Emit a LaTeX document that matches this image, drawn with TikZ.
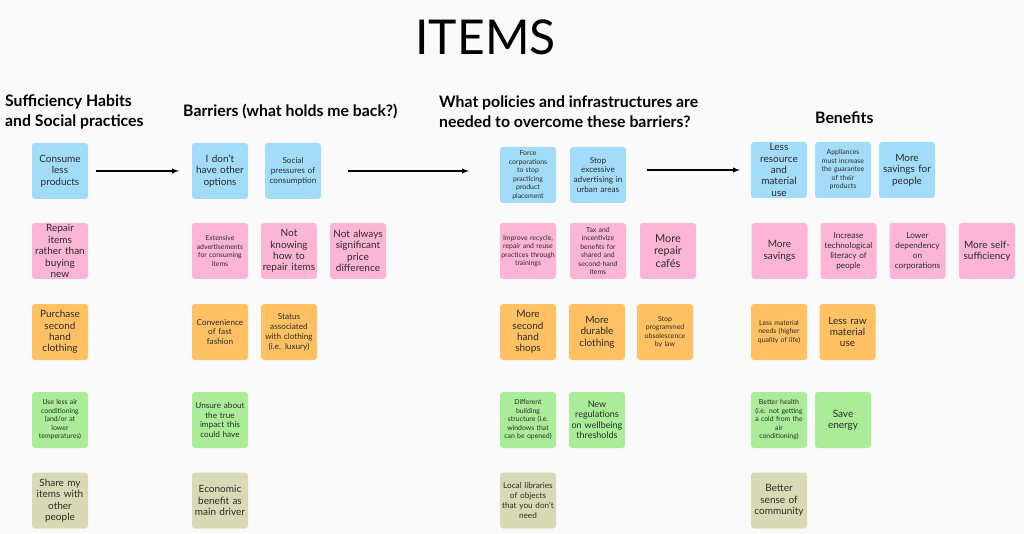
\documentclass[tikz,border=0pt]{standalone}
\usepackage{fontspec}
\setmainfont{Lato}
\usepackage{xcolor}
\definecolor{paper}{HTML}{FAFAFA}
\definecolor{ink}{HTML}{2B2B2B}
\definecolor{skyfill}{HTML}{A2DCF8}
\definecolor{rosefill}{HTML}{FCB5D4}
\definecolor{amberfill}{HTML}{FFC163}
\definecolor{limefill}{HTML}{AAEC98}
\definecolor{sandfill}{HTML}{D9DAB5}

\begin{document}
\begin{tikzpicture}[x=1pt, y=-1pt,
    note/.style={rounded corners=3pt, minimum width=56pt, minimum height=56pt,
        inner sep=0pt, text width=56pt, align=center, text=ink},
    big/.style={font=\fontsize{10}{11.4}\selectfont},
    mid/.style={font=\fontsize{8.2}{9.9}\selectfont},
    small/.style={font=\fontsize{6.9}{8.5}\selectfont},
    sky/.style={note, fill=skyfill},
    rose/.style={note, fill=rosefill},
    amber/.style={note, fill=amberfill},
    lime/.style={note, fill=limefill},
    sand/.style={note, fill=sandfill},
    head/.style={font=\fontsize{15.8}{20}\selectfont\bfseries, anchor=west,
        align=left, inner sep=0pt, text=black},
    flow/.style={-latex, line width=1.3pt}]
            \fill[paper] (0, 0) rectangle (1024, 534);
            \useasboundingbox (0, 0) rectangle (1024, 534);

            \node (title) at (485.5, 37) [font=\fontsize{48}{48}\selectfont, inner sep=0pt] {ITEMS};

            \node (hHabits) at (5, 112) [head] {Sufficiency Habits\\and Social practices};
            \node (hBarriers) at (183, 112) [head] {Barriers (what holds me back?)};
            \node (hPolicies) at (439, 112) [head] {What policies and infrastructures are\\needed to overcome these barriers?};
            \node (hBenefits) at (815, 118) [head] {Benefits};

            %Sufficiency habits.
            \node (h1) at (60, 171) [sky, big] {Consume\\less\\products};
            \node (h2) at (60, 251) [rose, big] {Repair\\items\\rather than\\buying\\new};
            \node (h3) at (60, 332) [amber, big] {Purchase\\second\\hand\\clothing};
            \node (h4) at (60, 420) [lime, small] {Use less air\\conditioning\\(and/or at\\lower\\temperatures)};
            \node (h5) at (60, 500.5) [sand, big] {Share my\\items with\\other\\people};

            %Barriers.
            \node (b1) at (220, 171) [sky, big] {I don't\\have other\\options};
            \node (b2) at (293, 171) [sky, mid] {Social\\pressures of\\consumption};
            \node (b3) at (220, 251) [rose, small] {Extensive\\advertisements\\for consuming\\items};
            \node (b4) at (289, 251) [rose, big] {Not\\knowing\\how to\\repair items};
            \node (b5) at (358, 251) [rose, big] {Not always\\significant\\price\\difference};
            \node (b6) at (220, 332) [amber, mid] {Convenience\\of fast\\fashion};
            \node (b7) at (289, 332) [amber, mid] {Status\\associated\\with clothing\\(i.e. luxury)};
            \node (b8) at (220, 420) [lime, mid] {Unsure about\\the true\\impact this\\could have};
            \node (b9) at (220, 500.5) [sand, big] {Economic\\benefit as\\main driver};

            %Policies and infrastructures.
            \node (p1) at (528, 175) [sky, small] {Force\\corporations\\to stop\\practicing\\product\\placement};
            \node (p2) at (598, 175) [sky, mid] {Stop\\excessive\\advertising in\\urban areas};
            \node (p3) at (528, 251) [rose, small] {Improve recycle,\\repair and reuse\\practices through\\trainings};
            \node (p4) at (598, 251) [rose, small] {Tax and\\incentivize\\benefits for\\shared and\\second-hand\\items};
            \node (p5) at (668, 251) [rose, font=\fontsize{11}{12.2}\selectfont] {More\\repair\\caf\'es};
            \node (p6) at (528, 332) [amber, big] {More\\second\\hand\\shops};
            \node (p7) at (597, 332) [amber, big] {More\\durable\\clothing};
            \node (p8) at (665, 332) [amber, small] {Stop\\programmed\\obsolescence\\by law};
            \node (p9) at (528, 420) [lime, small] {Different\\building\\structure (i.e.\\windows that\\can be opened)};
            \node (p10) at (597, 420) [lime, font=\fontsize{9}{10.4}\selectfont] {New\\regulations\\on wellbeing\\thresholds};
            \node (p11) at (528, 500.5) [sand, mid] {Local libraries\\of objects\\that you don't\\need};

            %Benefits.
            \node (n1) at (779, 170) [sky, big] {Less\\resource\\and\\material\\use};
            \node (n2) at (843, 170) [sky, small] {Appliances\\must increase\\the guarantee\\of their\\products};
            \node (n3) at (907, 170) [sky, big] {More\\savings for\\people};
            \node (n4) at (779.5, 251) [rose, big] {More\\savings};
            \node (n5) at (848.5, 251) [rose, mid] {Increase\\technological\\literacy of\\people};
            \node (n6) at (917.5, 251) [rose, mid] {Lower\\dependency\\on\\corporations};
            \node (n7) at (987, 251) [rose, big] {More self-\\sufficiency};
            \node (n8) at (779, 332) [amber, small] {Less material\\needs (higher\\quality of life)};
            \node (n9) at (847.5, 332) [amber, big] {Less raw\\material\\use};
            \node (n10) at (779, 420) [lime, small] {Better health\\(i.e. not getting\\a cold from the\\air\\conditioning)};
            \node (n11) at (843, 420) [lime, big] {Save\\energy};
            \node (n12) at (779, 500.5) [sand, big] {Better\\sense of\\community};

            \draw[flow, shorten <=8pt, shorten >=13pt] (h1) to (b1);
            \draw[flow, shorten <=27pt, shorten >=31pt] (b2.east) to (b2.east -| p1.west);
            \draw[flow, shorten <=21pt, shorten >=11pt] (p2.east |- n1) to (n1.west);
\end{tikzpicture}
\end{document}
